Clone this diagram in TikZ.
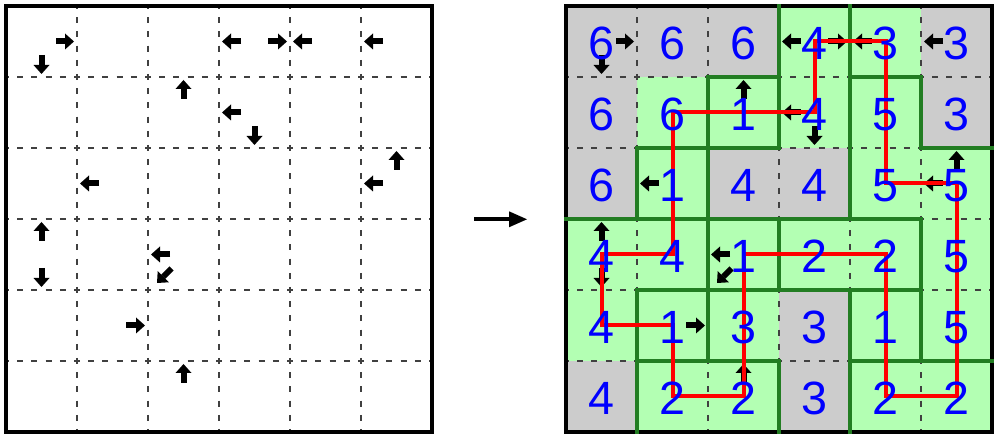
\documentclass[tikz,border=0pt]{standalone}
\usepackage{fontspec}
\setmainfont{Liberation Sans}
\usepackage{xcolor}
\usepackage{tikz}
\usetikzlibrary{arrows.meta}

\definecolor{cellgray}{RGB}{204,204,204}
\definecolor{cellgreen}{RGB}{179,255,179}
\definecolor{wallgreen}{RGB}{34,125,34}
\definecolor{numblue}{RGB}{0,0,255}

\begin{document}
\begin{tikzpicture}[x=0.75pt,y=0.75pt,yscale=-1,xscale=1,
  griddash/.style={draw=black!75,line width=0.9pt,dash pattern=on 4.5pt off 6.15pt,dash phase=2.25pt},
  wall/.style={draw=wallgreen,line width=2.6pt,line cap=rect},
  frame/.style={draw=black,line width=3pt},
  clue/.style={line width=4.5pt,-{Triangle[length=6.75pt,width=12pt,line width=0pt]}},
  loopline/.style={draw=red,line width=3pt},
  num/.style={text=numblue,font=\fontsize{35}{40}\selectfont,inner sep=0pt}]
\useasboundingbox (0,0) rectangle (1000,441);
\fill [white] (0,0) rectangle (1000,441);

% left grid
\draw [griddash] (77,6) -- (77,432) ;
\draw [griddash] (148,6) -- (148,432) ;
\draw [griddash] (219,6) -- (219,432) ;
\draw [griddash] (290,6) -- (290,432) ;
\draw [griddash] (361,6) -- (361,432) ;
\draw [griddash] (6,77) -- (432,77) ;
\draw [griddash] (6,148) -- (432,148) ;
\draw [griddash] (6,219) -- (432,219) ;
\draw [griddash] (6,290) -- (432,290) ;
\draw [griddash] (6,361) -- (432,361) ;
\draw [frame] (6,6) rectangle (432,432) ;

\draw [clue] (56,41.5) -- (74,41.5) ;
\draw [clue] (41.5,55) -- (41.5,74) ;
\draw [clue] (241,41.5) -- (222,41.5) ;
\draw [clue] (268,41.5) -- (287,41.5) ;
\draw [clue] (312,41.5) -- (293,41.5) ;
\draw [clue] (383,41.5) -- (364,41.5) ;
\draw [clue] (183.5,99) -- (183.5,80) ;
\draw [clue] (241,112.5) -- (222,112.5) ;
\draw [clue] (254.5,126) -- (254.5,145) ;
\draw [clue] (396.5,170) -- (396.5,151) ;
\draw [clue] (383,183.5) -- (364,183.5) ;
\draw [clue] (99,183.5) -- (80,183.5) ;
\draw [clue] (41.5,241) -- (41.5,222) ;
\draw [clue] (170,254.5) -- (151,254.5) ;
\draw [clue] (171.5,268.5) -- (157,283) ;
\draw [clue] (41.5,268) -- (41.5,287) ;
\draw [clue] (126,325.5) -- (145,325.5) ;
\draw [clue] (183.5,383) -- (183.5,364) ;

% arrow between the grids
\coordinate (from) at (474,219.3) ;
\coordinate (to) at (527,219.3) ;
\draw [line width=3pt,-{Triangle[length=13.5pt,width=12pt,line width=0pt]}] (from) -- (to) ;

% right grid
\fill [cellgreen] (566,6) rectangle (992,432) ;
\fill [cellgray] (566,6) -- (779,6) -- (779,77) -- (637,77) -- (637,219) -- (566,219) -- cycle ;
\fill [cellgray] (921,6) rectangle (992,148) ;
\fill [cellgray] (708,148) rectangle (850,219) ;
\fill [cellgray] (779,290) rectangle (850,432) ;
\fill [cellgray] (566,361) rectangle (637,432) ;

\draw [griddash] (637,6) -- (637,432) ;
\draw [griddash] (708,6) -- (708,432) ;
\draw [griddash] (779,6) -- (779,432) ;
\draw [griddash] (850,6) -- (850,432) ;
\draw [griddash] (921,6) -- (921,432) ;
\draw [griddash] (566,77) -- (992,77) ;
\draw [griddash] (566,148) -- (992,148) ;
\draw [griddash] (566,219) -- (992,219) ;
\draw [griddash] (566,290) -- (992,290) ;
\draw [griddash] (566,361) -- (992,361) ;
\draw [frame] (566,6) rectangle (992,432) ;

\draw [wall] (779,6) -- (779,148) ;
\draw [wall] (779,219) -- (779,290) ;
\draw [wall] (779,361) -- (779,432) ;
\draw [wall] (850,6) -- (850,219) ;
\draw [wall] (850,290) -- (850,432) ;
\draw [wall] (921,77) -- (921,148) ;
\draw [wall] (921,219) -- (921,361) ;
\draw [wall] (637,148) -- (637,219) ;
\draw [wall] (637,290) -- (637,432) ;
\draw [wall] (708,77) -- (708,361) ;
\draw [wall] (708,77) -- (779,77) ;
\draw [wall] (850,77) -- (921,77) ;
\draw [wall] (637,148) -- (779,148) ;
\draw [wall] (921,148) -- (992,148) ;
\draw [wall] (566,219) -- (921,219) ;
\draw [wall] (637,290) -- (921,290) ;
\draw [wall] (637,361) -- (779,361) ;
\draw [wall] (850,361) -- (992,361) ;

\draw [clue] (616,41.5) -- (634,41.5) ;
\draw [clue] (601.5,55) -- (601.5,74) ;
\draw [clue] (801,41.5) -- (782,41.5) ;
\draw [clue] (828,41.5) -- (847,41.5) ;
\draw [clue] (872,41.5) -- (853,41.5) ;
\draw [clue] (943,41.5) -- (924,41.5) ;
\draw [clue] (743.5,99) -- (743.5,80) ;
\draw [clue] (801,112.5) -- (782,112.5) ;
\draw [clue] (814.5,126) -- (814.5,145) ;
\draw [clue] (956.5,170) -- (956.5,151) ;
\draw [clue] (943,183.5) -- (924,183.5) ;
\draw [clue] (659,183.5) -- (640,183.5) ;
\draw [clue] (601.5,241) -- (601.5,222) ;
\draw [clue] (730,254.5) -- (711,254.5) ;
\draw [clue] (731.5,268.5) -- (717,283) ;
\draw [clue] (601.5,268) -- (601.5,287) ;
\draw [clue] (686,325.5) -- (705,325.5) ;
\draw [clue] (743.5,383) -- (743.5,364) ;

\draw [loopline] (814.5,41.5) -- (885.5,41.5) -- (885.5,183.5) -- (956.5,183.5) -- (956.5,396.5) -- (885.5,396.5) -- (885.5,254.5) -- (743.5,254.5) -- (743.5,396.5) -- (672.5,396.5) -- (672.5,325.5) -- (601.5,325.5) -- (601.5,254.5) -- (672.5,254.5) -- (672.5,112.5) -- (814.5,112.5) -- cycle ;

\draw (601.5,43.5) node (a1) [num] {6};
\draw (672.5,43.5) node (a2) [num] {6};
\draw (743.5,43.5) node (a3) [num] {6};
\draw (814.5,43.5) node (a4) [num] {4};
\draw (885.5,43.5) node (a5) [num] {3};
\draw (956.5,43.5) node (a6) [num] {3};
\draw (601.5,114.5) node (b1) [num] {6};
\draw (672.5,114.5) node (b2) [num] {6};
\draw (743.5,114.5) node (b3) [num] {1};
\draw (814.5,114.5) node (b4) [num] {4};
\draw (885.5,114.5) node (b5) [num] {5};
\draw (956.5,114.5) node (b6) [num] {3};
\draw (601.5,185.5) node (c1) [num] {6};
\draw (672.5,185.5) node (c2) [num] {1};
\draw (743.5,185.5) node (c3) [num] {4};
\draw (814.5,185.5) node (c4) [num] {4};
\draw (885.5,185.5) node (c5) [num] {5};
\draw (956.5,185.5) node (c6) [num] {5};
\draw (601.5,256.5) node (d1) [num] {4};
\draw (672.5,256.5) node (d2) [num] {4};
\draw (743.5,256.5) node (d3) [num] {1};
\draw (814.5,256.5) node (d4) [num] {2};
\draw (885.5,256.5) node (d5) [num] {2};
\draw (956.5,256.5) node (d6) [num] {5};
\draw (601.5,327.5) node (e1) [num] {4};
\draw (672.5,327.5) node (e2) [num] {1};
\draw (743.5,327.5) node (e3) [num] {3};
\draw (814.5,327.5) node (e4) [num] {3};
\draw (885.5,327.5) node (e5) [num] {1};
\draw (956.5,327.5) node (e6) [num] {5};
\draw (601.5,398.5) node (f1) [num] {4};
\draw (672.5,398.5) node (f2) [num] {2};
\draw (743.5,398.5) node (f3) [num] {2};
\draw (814.5,398.5) node (f4) [num] {3};
\draw (885.5,398.5) node (f5) [num] {2};
\draw (956.5,398.5) node (f6) [num] {2};
\end{tikzpicture}
\end{document}
